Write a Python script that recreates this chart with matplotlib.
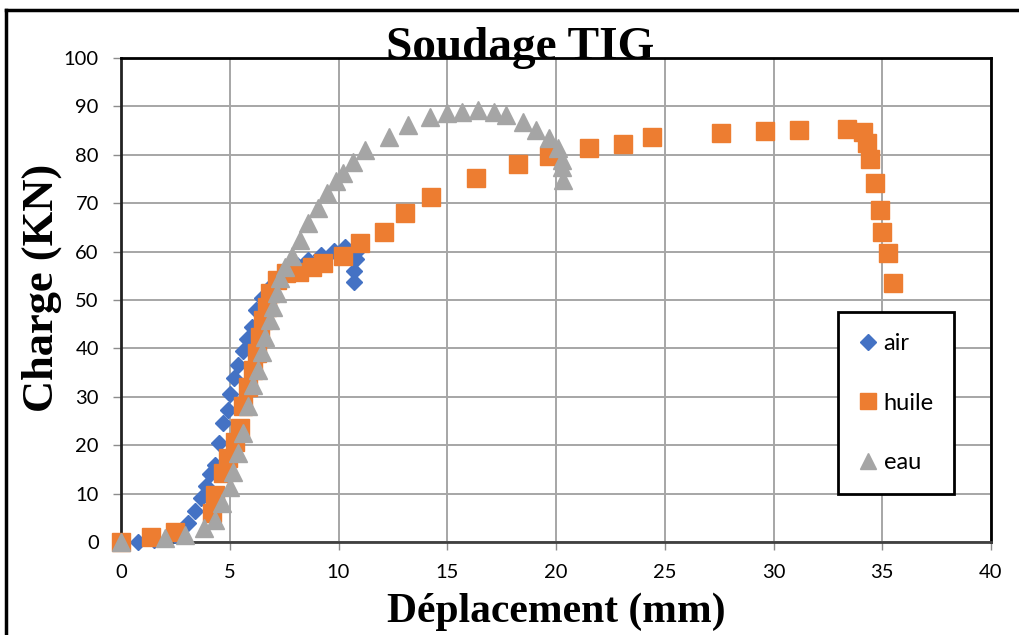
import matplotlib
matplotlib.use("Agg")
import matplotlib.pyplot as plt
from matplotlib.lines import Line2D

# ---- data ----
air_x = [0.8, 1.5, 2.5, 3.1, 3.4, 3.7, 3.9, 4.1, 4.3, 4.5, 4.7, 4.9, 5.0, 5.2, 5.4, 5.6,
         5.8, 6.0, 6.2, 6.5, 6.8, 7.2, 7.6, 8.1, 8.6, 9.2, 9.8, 10.3, 10.8, 10.8, 10.7, 10.7]
air_y = [0.0, 0.5, 1.5, 3.9, 6.5, 9.0, 11.5, 14.0, 16.0, 20.4, 24.5, 27.3, 30.5, 33.8, 36.5, 39.5,
         42.0, 44.5, 48.0, 50.5, 52.5, 54.5, 56.0, 57.3, 58.3, 59.3, 60.2, 61.0, 60.0, 58.5, 56.0, 53.8]

huile_x = [0.0, 1.4, 2.5, 4.17, 4.32, 4.7, 4.93, 5.24, 5.47, 5.62, 5.84, 6.07, 6.24, 6.4, 6.53,
           6.7, 6.85, 7.16, 7.6, 8.2, 8.8, 9.3, 10.2, 11.0, 12.1, 13.06, 14.25, 16.3, 18.24,
           19.7, 21.5, 23.1, 24.4, 27.6, 29.6, 31.17, 33.4, 34.1, 34.3, 34.44, 34.67, 34.9,
           35.0, 35.27, 35.5]
huile_y = [0.0, 1.1, 2.1, 6.0, 9.7, 14.2, 17.4, 20.7, 23.5, 28.0, 32.0, 35.5, 39.0, 42.4, 45.9,
           48.6, 51.4, 54.1, 55.5, 55.8, 56.9, 57.6, 59.0, 61.7, 64.1, 68.0, 71.3, 75.3, 78.1,
           79.8, 81.4, 82.2, 83.6, 84.5, 84.9, 85.1, 85.3, 84.7, 82.4, 79.1, 74.2, 68.5,
           64.1, 59.7, 53.5]

eau_x = [0.0, 2.0, 2.94, 3.8, 4.3, 4.63, 5.0, 5.16, 5.4, 5.6, 5.84, 6.07, 6.3, 6.47, 6.62,
         6.85, 7.0, 7.16, 7.3, 7.54, 7.85, 8.23, 8.6, 9.06, 9.46, 9.9, 10.2, 10.67, 11.2,
         12.3, 13.2, 14.2, 15.0, 15.7, 16.4, 17.15, 17.7, 18.47, 19.1, 19.7, 20.1, 20.26,
         20.26, 20.33]
eau_y = [0.0, 0.8, 1.5, 2.9, 4.5, 8.0, 11.4, 14.5, 18.3, 22.5, 28.0, 32.4, 35.5, 39.3, 42.4,
         45.9, 48.6, 51.4, 54.5, 56.9, 59.0, 62.4, 65.9, 69.0, 72.1, 74.5, 76.2, 78.6, 81.0,
         83.7, 86.2, 87.9, 88.6, 88.9, 89.3, 88.9, 88.2, 86.8, 85.1, 83.4, 81.4, 78.9,
         77.5, 74.8]

series_labels = ["air", "huile", "eau"]
x_ticks = [0, 5, 10, 15, 20, 25, 30, 35, 40]
y_ticks = [0, 10, 20, 30, 40, 50, 60, 70, 80, 90, 100]
title = "Soudage TIG"
xlabel = "Déplacement (mm)"
ylabel = "Charge (KN)"

# ---- figure ----
W, H = 1020, 635
fig = plt.figure(figsize=(W / 100, H / 100), dpi=100)
fig.patch.set_facecolor("white")
ax = fig.add_axes([121 / W, 1 - 542 / H, (991 - 121) / W, (542 - 58) / H])

ax.plot(air_x, air_y, linestyle="none", marker="D", ms=8.5, color="#4472C4",
        label=series_labels[0], zorder=3, clip_on=False)
ax.plot(huile_x, huile_y, linestyle="none", marker="s", ms=13.5, color="#ED7D31",
        label=series_labels[1], zorder=4, clip_on=False)
ax.plot(eau_x, eau_y, linestyle="none", marker="^", ms=13.5, color="#A5A5A5",
        label=series_labels[2], zorder=5, clip_on=False)

ax.set_xlim(0, 40)
ax.set_ylim(0, 100)
ax.set_xticks(x_ticks)
ax.set_yticks(y_ticks)
ax.grid(True, color="#a6a6a6", linewidth=1.4, zorder=0)
ax.set_axisbelow(True)

tick_font = "Lato"
ax.tick_params(axis="both", direction="out", length=6, width=1, color="#8c8c8c",
               labelsize=14.5, pad=10)
for lab in ax.get_xticklabels() + ax.get_yticklabels():
    lab.set_fontfamily(tick_font)

for side in ["top", "right", "left", "bottom"]:
    ax.spines[side].set_linewidth(2)
ax.spines["top"].set_color("black")
ax.spines["right"].set_color("black")
ax.spines["left"].set_color("#222222")
ax.spines["bottom"].set_color("#404040")

serif = "Liberation Serif"
fig.text(520 / W, 1 - 59 / H, title, ha="center", va="baseline", fontsize=34,
         fontweight="bold", family=serif)
fig.text(556 / W, 1 - 612 / H, xlabel, ha="center", va="center", fontsize=30,
         fontweight="bold", family=serif)
fig.text(42 / W, 1 - 288 / H, ylabel, ha="center", va="center", fontsize=32,
         fontweight="bold", family=serif, rotation=90)

leg = ax.legend(loc="upper left", bbox_to_anchor=((838 - 121) / 870, (542 - 312) / 484),
                frameon=True, fancybox=False, edgecolor="black", framealpha=1,
                prop={"family": tick_font, "size": 17}, labelspacing=1.64,
                handlelength=0.75, handletextpad=0.3, borderpad=0.88, borderaxespad=0,
                markerscale=0.9)
leg.get_frame().set_linewidth(2)
leg.set_zorder(10)

# outer border (top and left edges visible)
fig.add_artist(Line2D([6 / W, 1.0], [1 - 10 / H, 1 - 10 / H], transform=fig.transFigure,
                      color="black", linewidth=2.5))
fig.add_artist(Line2D([6 / W, 6 / W], [0.0, 1 - 10 / H], transform=fig.transFigure,
                      color="black", linewidth=2.5))

fig.savefig("out.png", dpi=100)
